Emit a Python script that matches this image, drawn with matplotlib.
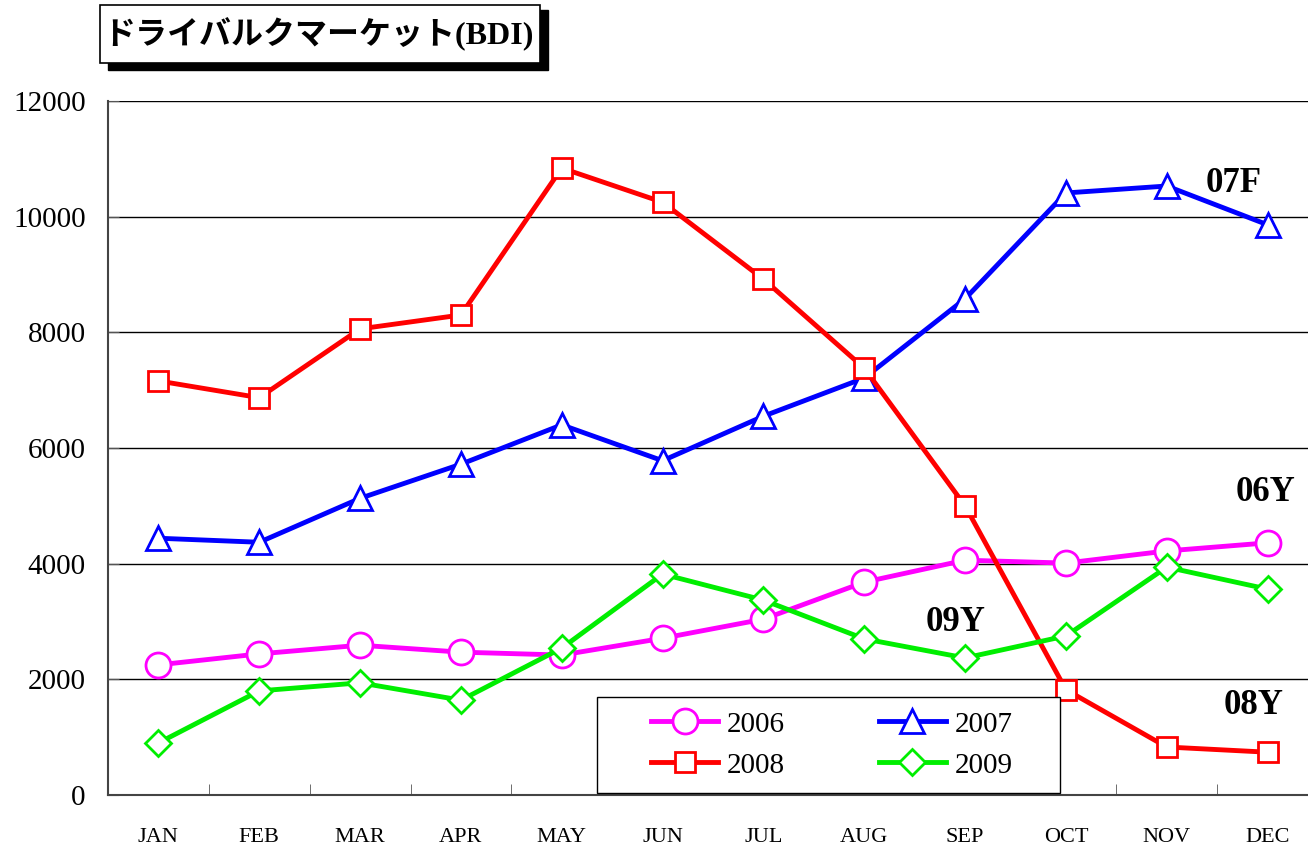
import matplotlib.pyplot as plt
from matplotlib.patches import Rectangle

months = ['JAN', 'FEB', 'MAR', 'APR', 'MAY', 'JUN',
          'JUL', 'AUG', 'SEP', 'OCT', 'NOV', 'DEC']

bdi_2006 = [2250, 2440, 2590, 2470, 2420, 2710, 3040, 3680, 4060, 4010, 4220, 4360]
bdi_2007 = [4440, 4370, 5130, 5720, 6400, 5780, 6550, 7210, 8580, 10410, 10530, 9860]
bdi_2008 = [7160, 6870, 8060, 8300, 10840, 10250, 8920, 7380, 5000, 1820, 830, 740]
bdi_2009 = [900, 1800, 1940, 1640, 2540, 3820, 3370, 2700, 2370, 2750, 3940, 3560]

serif = ['Liberation Serif', 'DejaVu Serif']
plt.rcParams['font.family'] = serif

W, H = 1308, 848
fig = plt.figure(figsize=(W / 100, H / 100), dpi=100)
ax = fig.add_axes([108 / W, 53 / H, 1210 / W, 694 / H])

x = list(range(len(months)))
lw = 3.5
mew = 2
l06, = ax.plot(x, bdi_2006, color='#ff00ff', lw=lw, marker='o', ms=18,
               mfc='white', mec='#ff00ff', mew=mew, label='2006', zorder=3)
l07, = ax.plot(x, bdi_2007, color='#0000ff', lw=lw, marker='^', ms=17,
               mfc='white', mec='#0000ff', mew=mew, label='2007', zorder=3)
l08, = ax.plot(x, bdi_2008, color='#ff0000', lw=lw, marker='s', ms=15,
               mfc='white', mec='#ff0000', mew=mew, label='2008', zorder=3)
l09, = ax.plot(x, bdi_2009, color='#00ee00', lw=lw, marker='D', ms=13,
               mfc='white', mec='#00ee00', mew=mew, label='2009', zorder=3)

ax.set_xlim(-0.5, 11.5)
ax.set_ylim(0, 12000)
ax.set_yticks(range(0, 12001, 2000))
ax.set_xticks(x)
ax.set_xticklabels(months, fontsize=16)
ax.set_xticks([i + 0.5 for i in range(11)], minor=True)
ax.tick_params(axis='x', which='major', length=0, pad=24)
ax.tick_params(axis='x', which='minor', direction='in', length=8, color='#555555')
ax.tick_params(axis='y', direction='in', length=8, labelsize=21, pad=16, color='#555555')
ax.grid(axis='y', color='black', lw=1)
for s in ['top', 'right']:
    ax.spines[s].set_visible(False)
ax.spines['left'].set_color('#444444')
ax.spines['left'].set_linewidth(1.5)
ax.spines['bottom'].set_color('#444444')
ax.spines['bottom'].set_linewidth(1.5)

lab = dict(fontsize=25, fontweight='bold', ha='center', va='center')
ax.text(10.66, 10580, '07F', **lab)
ax.text(10.98, 5230, '06Y', **lab)
ax.text(7.91, 2980, '09Y', **lab)
ax.text(10.86, 1540, '08Y', **lab)

# legend box drawn separately so the entries can sit centred in it
ax.add_patch(Rectangle((597 / W, 1 - 793 / H), 463 / W, 96 / H,
                       transform=fig.transFigure, facecolor='white',
                       edgecolor='black', lw=1, zorder=4, clip_on=False))
leg = ax.legend([l06, l08, l07, l09], ['2006', '2008', '2007', '2009'],
                ncol=2, loc='center', bbox_to_anchor=(832 / W, 1 - 745 / H),
                bbox_transform=fig.transFigure, fontsize=21, frameon=False,
                handlelength=2.3, borderpad=0, borderaxespad=0,
                labelspacing=0.5, columnspacing=3.2, handletextpad=0.3)
leg.set_zorder(5)

# title box with drop shadow
fig.patches.append(Rectangle((108 / W, 1 - 70 / H), 440 / W, 60 / H,
                             transform=fig.transFigure, facecolor='black',
                             edgecolor='black', zorder=1))
fig.patches.append(Rectangle((100 / W, 1 - 63 / H), 440 / W, 58 / H,
                             transform=fig.transFigure, facecolor='white',
                             edgecolor='black', lw=1.2, zorder=2))
fig.text(318 / W, 1 - 34 / H, 'ドライバルクマーケット(BDI)', ha='center', va='center',
         fontsize=23, fontweight='bold', family=['Liberation Serif', 'Noto Sans CJK JP'],
         zorder=3)

fig.savefig('out.png', dpi=100)
